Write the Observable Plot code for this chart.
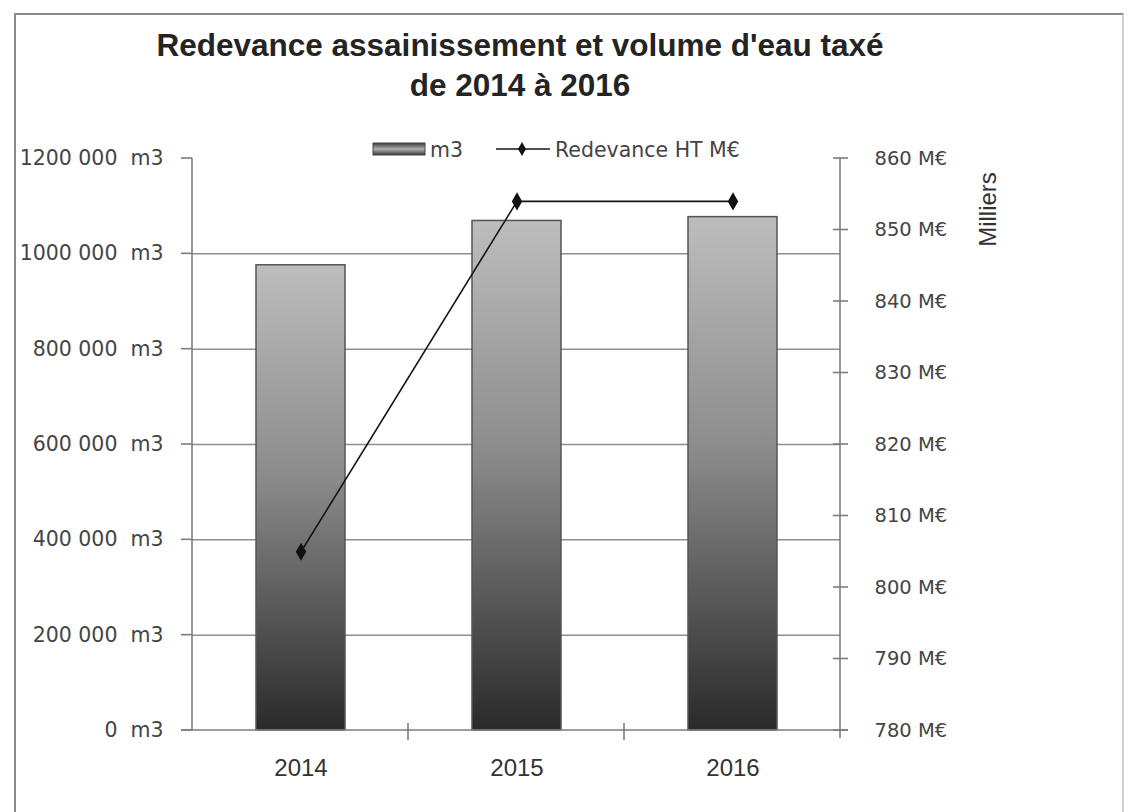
<!DOCTYPE html>
<html>
<head>
<meta charset="utf-8">
<script src="https://cdn.jsdelivr.net/npm/d3@7"></script>
<script src="https://cdn.jsdelivr.net/npm/@observablehq/plot@0.6"></script>
<style>
  body { margin: 0; background: #fff; }
  #wrap { position: relative; width: 1130px; height: 812px; overflow: hidden; background: #fff; }
  #frame { position: absolute; left: 14px; top: 13px; width: 1106px; height: 900px;
           border: 2px solid #8a8a8a; border-right-color: #d0d0d0; border-bottom: none; }
  .title { position: absolute; left: 0; width: 1040px; text-align: center;
           font: bold 31.5px "Liberation Sans", Arial, sans-serif; color: #242424; line-height: 40px; }
  #chart { position: absolute; left: 0; top: 0; }
  #legend { position: absolute; left: 0; top: 0; pointer-events: none; }
</style>
</head>
<body>
<div id="wrap">
  <div id="frame"></div>
  <div class="title" style="top:25px">Redevance assainissement et volume d'eau taxé</div>
  <div class="title" style="top:65px">de 2014 à 2016</div>
  <div id="chart"></div>
  <svg id="legend" width="1130" height="200"></svg>
</div>
<script>
// ---- data ----
const years = ["2014", "2015", "2016"];
const volumeM3 = [976000, 1069000, 1077000];
const redevanceME = [805, 854, 854];

const leftTicks = [0, 200000, 400000, 600000, 800000, 1000000, 1200000];
const leftTickLabels = ["0\u00a0 m3", "200\u00a0000\u00a0 m3", "400\u00a0000\u00a0 m3", "600\u00a0000\u00a0 m3",
                        "800\u00a0000\u00a0 m3", "1000\u00a0000\u00a0 m3", "1200\u00a0000\u00a0 m3"];
const gridTicks = [0, 200000, 400000, 600000, 800000, 1000000];
const rightTicks = [780, 790, 800, 810, 820, 830, 840, 850, 860];
const rightTickLabels = ["780\u00a0M€", "790\u00a0M€", "800\u00a0M€", "810\u00a0M€", "820\u00a0M€",
                         "830\u00a0M€", "840\u00a0M€", "850\u00a0M€", "860\u00a0M€"];
const legendLabels = ["m3", "Redevance HT M€"];
const rightAxisTitle = "Milliers";

// scale mapping between the two axes
const Y_MAX = 1200000, R_MIN = 780, R_MAX = 860;
const toLeft = v => (v - R_MIN) / (R_MAX - R_MIN) * Y_MAX;

const data = years.map((year, i) => ({year, volume: volumeM3[i], redevance: redevanceME[i]}));
const leftLabelMap = new Map(leftTicks.map((t, i) => [t, leftTickLabels[i]]));
const rightLabelMap = new Map(rightTicks.map((t, i) => [toLeft(t), rightTickLabels[i]]));

const AXIS = "#7d7d7d";

function defs() {
  const d = d3.create("svg:defs");
  const g = d.append("linearGradient").attr("id", "barGrad").attr("x1", 0).attr("y1", 0).attr("x2", 0).attr("y2", 1);
  g.append("stop").attr("offset", "0%").attr("stop-color", "#bdbdbd");
  g.append("stop").attr("offset", "45%").attr("stop-color", "#8c8c8c");
  g.append("stop").attr("offset", "100%").attr("stop-color", "#2a2a2a");
  const h = d.append("linearGradient").attr("id", "legGrad").attr("x1", 0).attr("y1", 0).attr("x2", 0).attr("y2", 1);
  h.append("stop").attr("offset", "0%").attr("stop-color", "#3a3a3a");
  h.append("stop").attr("offset", "50%").attr("stop-color", "#b0b0b0");
  h.append("stop").attr("offset", "100%").attr("stop-color", "#3a3a3a");
  return d.node();
}

function axisLines(index, scales, values, dim) {
  const g = d3.create("svg:g").attr("stroke", AXIS).attr("stroke-width", 1.6).attr("fill", "none");
  const x0 = dim.marginLeft, x1 = dim.width - dim.marginRight;
  const y = scales.y;
  const yTop = y(Y_MAX), yBot = y(0);
  g.append("line").attr("x1", x0).attr("x2", x0).attr("y1", yTop).attr("y2", yBot);
  g.append("line").attr("x1", x1).attr("x2", x1).attr("y1", yTop).attr("y2", yBot + 8);
  g.append("line").attr("x1", x0 - 11).attr("x2", x1 + 8).attr("y1", yBot).attr("y2", yBot);
  for (const t of leftTicks) g.append("line").attr("x1", x0 - 11).attr("x2", x0).attr("y1", y(t)).attr("y2", y(t));
  for (const t of rightTicks) g.append("line").attr("x1", x1 - 7).attr("x2", x1 + 8).attr("y1", y(toLeft(t))).attr("y2", y(toLeft(t)));
  const step = (x1 - x0) / years.length;
  for (let i = 1; i < years.length; i++) {
    const xx = x0 + i * step;
    g.append("line").attr("x1", xx).attr("x2", xx).attr("y1", yBot - 7).attr("y2", yBot + 10);
  }
  return g.node();
}

const chart = Plot.plot({
  width: 1130,
  height: 812,
  marginTop: 158,
  marginBottom: 82,
  marginLeft: 192,
  marginRight: 290,
  style: {background: "transparent", color: "#444", fontFamily: "DejaVu Sans, sans-serif", fontSize: "19px"},
  x: {domain: years, paddingInner: 0.59, paddingOuter: 0.295, axis: null},
  y: {domain: [0, Y_MAX], axis: null},
  marks: [
    defs,
    Plot.ruleY(gridTicks.slice(1), {stroke: "#8f8f8f", strokeWidth: 1.5}),
    Plot.barY(data, {x: "year", y: "volume", fill: "url(#barGrad)", stroke: "#555", strokeWidth: 1.5}),
    axisLines,
    Plot.axisY({anchor: "left", ticks: leftTicks, tickSize: 0, tickPadding: 29, label: null,
                tickFormat: d => leftLabelMap.get(d), fill: "#454545", fontSize: 20.5, fontFamily: "DejaVu Sans"}),
    Plot.axisY({anchor: "right", ticks: rightTicks.map(toLeft), tickSize: 0, tickPadding: 34, label: null,
                tickFormat: d => rightLabelMap.get(d), fill: "#454545", fontSize: 19.5, fontFamily: "DejaVu Sans"}),
    Plot.axisX({anchor: "bottom", tickSize: 0, tickPadding: 28, label: null,
                fill: "#333", fontSize: 24, fontFamily: "Liberation Sans"}),
    Plot.line(data, {x: "year", y: d => toLeft(d.redevance), stroke: "#151515", strokeWidth: 1.6}),
    Plot.dot(data, {x: "year", y: d => toLeft(d.redevance), symbol: "diamond", r: 5.5, fill: "#111", stroke: "none"}),
    Plot.text([rightAxisTitle], {frameAnchor: "top-right", dx: 138, dy: 51, rotate: -90, text: d => d,
               fontSize: 24, fontFamily: "Liberation Sans", fill: "#333", textAnchor: "middle"})
  ]
});
document.getElementById("chart").appendChild(chart);

// legend
const leg = d3.select("#legend");
leg.append("rect").attr("x", 373).attr("y", 143).attr("width", 52).attr("height", 12)
   .attr("fill", "url(#legGrad)").attr("stroke", "#444").attr("stroke-width", 1);
leg.append("text").attr("x", 430).attr("y", 157).text(legendLabels[0])
   .attr("font-family", "DejaVu Sans").attr("font-size", 20.5).attr("fill", "#444");
leg.append("line").attr("x1", 496).attr("x2", 550).attr("y1", 149).attr("y2", 149)
   .attr("stroke", "#151515").attr("stroke-width", 1.6);
leg.append("path").attr("d", d3.symbol(d3.symbolDiamond, 55)()).attr("transform", "translate(522,149)").attr("fill", "#111");
leg.append("text").attr("x", 555).attr("y", 157).text(legendLabels[1])
   .attr("font-family", "DejaVu Sans").attr("font-size", 20.5).attr("fill", "#444");
</script>
</body>
</html>
